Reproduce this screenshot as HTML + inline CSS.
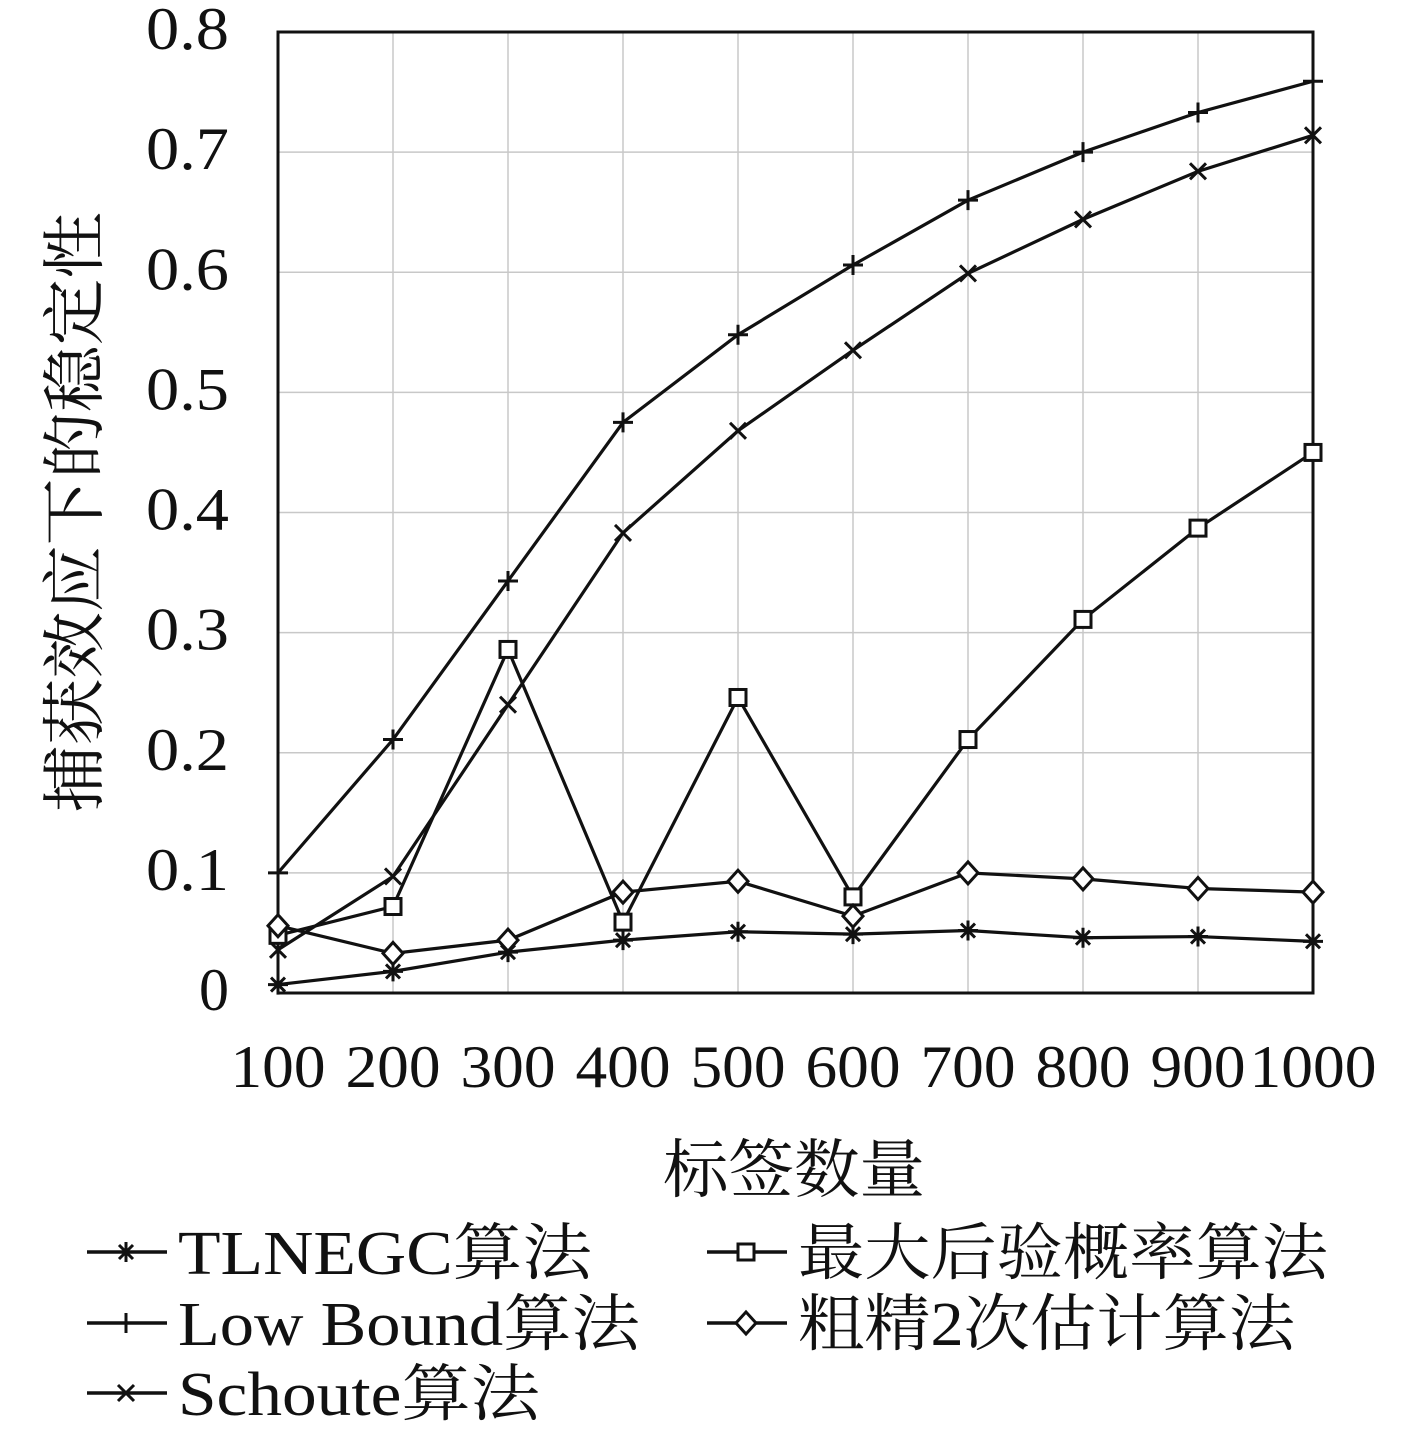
<!DOCTYPE html>
<html><head><meta charset="utf-8"><style>
html,body{margin:0;padding:0;background:#fff}
svg text{font-family:"Liberation Serif","Noto Serif CJK SC","Noto Sans CJK SC",serif;fill:#111}
</style></head><body>
<svg id="chart" width="1417" height="1427" xmlns="http://www.w3.org/2000/svg"></svg>
<script>
const categories=[100,200,300,400,500,600,700,800,900,1000];
const yTicks=[0,0.1,0.2,0.3,0.4,0.5,0.6,0.7,0.8];
const yTickLabels=["0","0.1","0.2","0.3","0.4","0.5","0.6","0.7","0.8"];
const tlnegc=[0.007,0.018,0.034,0.044,0.051,0.049,0.052,0.046,0.047,0.043];
const lowBound=[0.1,0.211,0.343,0.475,0.548,0.606,0.66,0.70,0.733,0.759];
const schoute=[0.036,0.097,0.24,0.383,0.468,0.535,0.599,0.644,0.684,0.714];
const mapAlg=[0.048,0.072,0.286,0.059,0.246,0.08,0.211,0.311,0.387,0.45];
const coarse=[0.056,0.033,0.044,0.084,0.093,0.064,0.1,0.095,0.087,0.084];

const NS="http://www.w3.org/2000/svg";
const svg=document.getElementById('chart');
const L=278,R=1313,T=32,B=993;
const xs=v=>L+(v-100)/900*(R-L);
const ys=v=>B-v/0.8*(B-T);
function mk(tag,attrs,parent){const e=document.createElementNS(NS,tag);for(const k in attrs)e.setAttribute(k,attrs[k]);(parent||svg).appendChild(e);return e;}

const grid=mk('g',{});


categories.forEach(c=>{const l=mk('line',{x1:xs(c),x2:xs(c),y1:T,y2:B,stroke:'#c8c8c8','stroke-width':1.5},grid);

});
yTicks.forEach(t=>{const l=mk('line',{x1:L,x2:R,y1:ys(t),y2:ys(t),stroke:'#c8c8c8','stroke-width':1.5},grid);

});
const frame=mk('rect',{x:L,y:T,width:R-L,height:B-T,fill:'none',stroke:'#111','stroke-width':3});



yTicks.forEach((t,i)=>{const lab=yTickLabels[i];const a={x:229,y:ys(t)+17,'text-anchor':'end','font-size':60};
if(lab.length>1){a.textLength=83;a.lengthAdjust='spacingAndGlyphs';}
const tx=mk('text',a);tx.textContent=lab;

});
categories.forEach(c=>{const s=String(c);const tx=mk('text',{x:xs(c),y:1087,'text-anchor':'middle','font-size':60,textLength:s.length===4?127:95,lengthAdjust:'spacingAndGlyphs'});tx.textContent=s;

});

const xt=mk('text',{x:794,y:1192,'text-anchor':'middle','font-size':64,textLength:262,lengthAdjust:'spacingAndGlyphs'});xt.textContent='标签数量';


const yt=mk('text',{x:0,y:0,'text-anchor':'middle','font-size':64,textLength:600,lengthAdjust:'spacingAndGlyphs',transform:'translate(97,512) rotate(-90)'});yt.textContent='捕获效应下的稳定性';



function marker(type,x,y,g){
  const a={stroke:'#111','stroke-width':3,fill:'none'};const s=10;
  if(type==='star'){mk('path',Object.assign({d:`M${x-s} ${y}H${x+s}M${x} ${y-s}V${y+s}M${x-7} ${y-7}L${x+7} ${y+7}M${x-7} ${y+7}L${x+7} ${y-7}`},a),g);}
  else if(type==='plus'){mk('path',Object.assign({d:`M${x-s} ${y}H${x+s}M${x} ${y-s}V${y+s}`},a),g);}
  else if(type==='x'){mk('path',Object.assign({d:`M${x-8} ${y-8}L${x+8} ${y+8}M${x-8} ${y+8}L${x+8} ${y-8}`},a),g);}
  else if(type==='square'){mk('rect',Object.assign({x:x-8,y:y-8,width:16,height:16},a,{fill:'#fff'}),g);}
  else if(type==='diamond'){mk('path',Object.assign({d:`M${x} ${y-11}L${x+10} ${y}L${x} ${y+11}L${x-10} ${y}Z`},a,{fill:'#fff'}),g);}
}
const series=[
 {name:'tlnegc',data:tlnegc,m:'star'},
 {name:'low-bound',data:lowBound,m:'plus'},
 {name:'schoute',data:schoute,m:'x'},
 {name:'map',data:mapAlg,m:'square'},
 {name:'coarse-fine',data:coarse,m:'diamond'}];
series.forEach(s=>{
  const g=mk('g',{});
  
  
  const pts=s.data.map((v,i)=>xs(categories[i])+','+ys(v)).join(' ');
  mk('polyline',{points:pts,fill:'none',stroke:'#111','stroke-width':3.2},g);
  s.data.forEach((v,i)=>marker(s.m,xs(categories[i]),ys(v),g));
});

const legend=[
 {label:'TLNEGC算法',m:'star',x:87,y:1252,w:414},
 {label:'Low Bound算法',m:'plus',x:87,y:1323,w:462},
 {label:'Schoute算法',m:'x',x:87,y:1393,w:362},
 {label:'最大后验概率算法',m:'square',x:707,y:1252,w:530},
 {label:'粗精2次估计算法',m:'diamond',x:707,y:1323,w:497}];
legend.forEach(e=>{
  const g=mk('g',{});
  
  
  mk('line',{x1:e.x,x2:e.x+80,y1:e.y,y2:e.y,stroke:'#111','stroke-width':3.5},g);
  marker(e.m,e.x+39,e.y,g);
  const t=mk('text',{x:e.x+91,y:e.y+22,'font-size':62,textLength:e.w,lengthAdjust:'spacingAndGlyphs'},g);t.textContent=e.label;
});
</script>
</body></html>
